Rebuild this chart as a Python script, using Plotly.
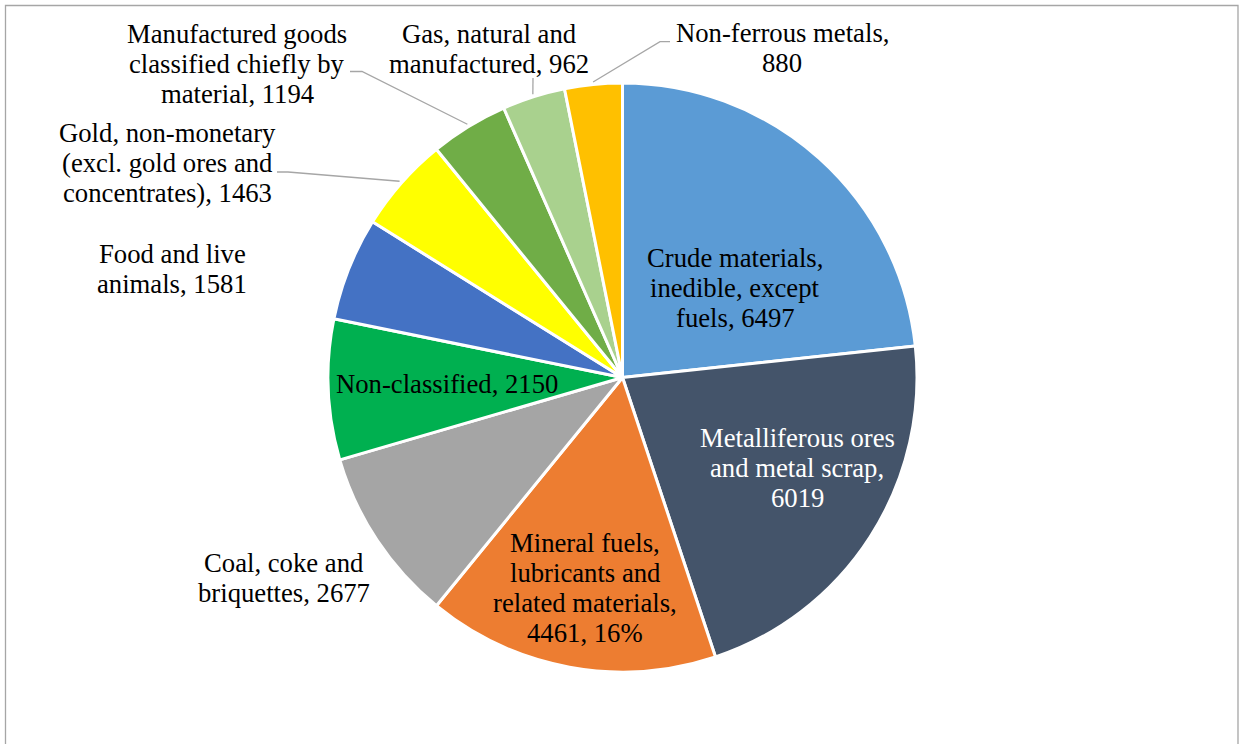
import math
import plotly.graph_objects as go

# ---- data ---------------------------------------------------------------
categories = [
    "Crude materials, inedible, except fuels",
    "Metalliferous ores and metal scrap",
    "Mineral fuels, lubricants and related materials",
    "Coal, coke and briquettes",
    "Non-classified",
    "Food and live animals",
    "Gold, non-monetary (excl. gold ores and concentrates)",
    "Manufactured goods classified chiefly by material",
    "Gas, natural and manufactured",
    "Non-ferrous metals",
]
values = [6497, 6019, 4461, 2677, 2150, 1581, 1463, 1194, 962, 880]
colors = ["#5B9BD5", "#44546A", "#ED7D31", "#A5A5A5", "#00B050",
          "#4472C4", "#FFFF00", "#70AD47", "#A9D18E", "#FFC000"]

# wrapped label text per slice: {v} = value, {p} = share of total
label_lines = [
    ["Crude materials,", "inedible, except", "fuels, {v}"],
    ["Metalliferous ores", "and metal scrap,", "{v}"],
    ["Mineral fuels,", "lubricants and", "related materials,", "{v}, {p}"],
    ["Coal, coke and", "briquettes, {v}"],
    ["Non-classified, {v}"],
    ["Food and live", "animals, {v}"],
    ["Gold, non-monetary", "(excl. gold ores and", "concentrates), {v}"],
    ["Manufactured goods", "classified chiefly by", "material, {v}"],
    ["Gas, natural and", "manufactured, {v}"],
    ["Non-ferrous metals,", "{v}"],
]
label_colors = ["black", "white", "black", "black", "black",
                "black", "black", "black", "black", "black"]

# ---- layout geometry (pixels) -------------------------------------------
W, H = 1247, 744
CX, CY, R = 622.5, 377.5, 294.5          # pie centre and radius
FONT = "Liberation Serif"
FONT_SIZE = 26.7
LINE_STEP = 30

# centre x and first-line baseline of each label
label_pos = [(735, 267), (797, 447), (585, 552), (284, 572), (447, 393),
             (172, 263), (167, 142), (237, 43), (489, 43), (782, 42)]
# label-side points of the leader lines; the slice end comes from the slice angle
leader_pts = {
    6: [(277, 172), (288, 172)],
    7: [(350, 71.5), (362, 71.5)],
    8: [(533, 78)],
    9: [(670, 41.7), (660, 41.7)],
}


def px(x):
    return x / W


def py(y):
    return 1 - y / H


total = sum(values)

fig = go.Figure(go.Pie(
    labels=categories,
    values=values,
    sort=False,
    direction="clockwise",
    rotation=0,
    marker=dict(colors=colors, line=dict(color="white", width=3)),
    textinfo="none",
    hoverinfo="label+value+percent",
    showlegend=False,
    domain=dict(x=[px(CX - R), px(CX + R)], y=[py(CY + R), py(CY - R)]),
))

annotations = []
for i, lines in enumerate(label_lines):
    cx, base = label_pos[i]
    share = f"{round(100 * values[i] / total)}%"
    for k, line in enumerate(lines):
        text = line.format(v=values[i], p=share)
        annotations.append(dict(
            x=px(cx), y=py(base + k * LINE_STEP - 9),
            xref="paper", yref="paper",
            text=text, showarrow=False,
            xanchor="center", yanchor="middle",
            font=dict(family=FONT, size=FONT_SIZE, color=label_colors[i]),
        ))

shapes = []
# leader lines ending just outside the slice's mid-angle
cum = 0
for i, v in enumerate(values):
    mid = (cum + v / 2) / total * 2 * math.pi
    cum += v
    if i not in leader_pts:
        continue
    ex = CX + (R + 2.5) * math.sin(mid)
    ey = CY - (R + 2.5) * math.cos(mid)
    pts = leader_pts[i] + [(ex, ey)]
    path = "M " + " L ".join(f"{px(x):.5f},{py(y):.5f}" for x, y in pts)
    shapes.append(dict(type="path", path=path, xref="paper", yref="paper",
                       line=dict(color="#A6A6A6", width=1.3)))

# chart frame
shapes.append(dict(type="rect", xref="paper", yref="paper",
                   x0=px(5.5), x1=px(1238), y0=-0.05, y1=py(5.5),
                   line=dict(color="#A6A6A6", width=1.3),
                   fillcolor="rgba(0,0,0,0)"))

fig.update_layout(
    width=W, height=H,
    margin=dict(l=0, r=0, t=0, b=0),
    paper_bgcolor="white",
    plot_bgcolor="white",
    font=dict(family=FONT),
    annotations=annotations,
    shapes=shapes,
    showlegend=False,
)

fig.write_html("out.html")
